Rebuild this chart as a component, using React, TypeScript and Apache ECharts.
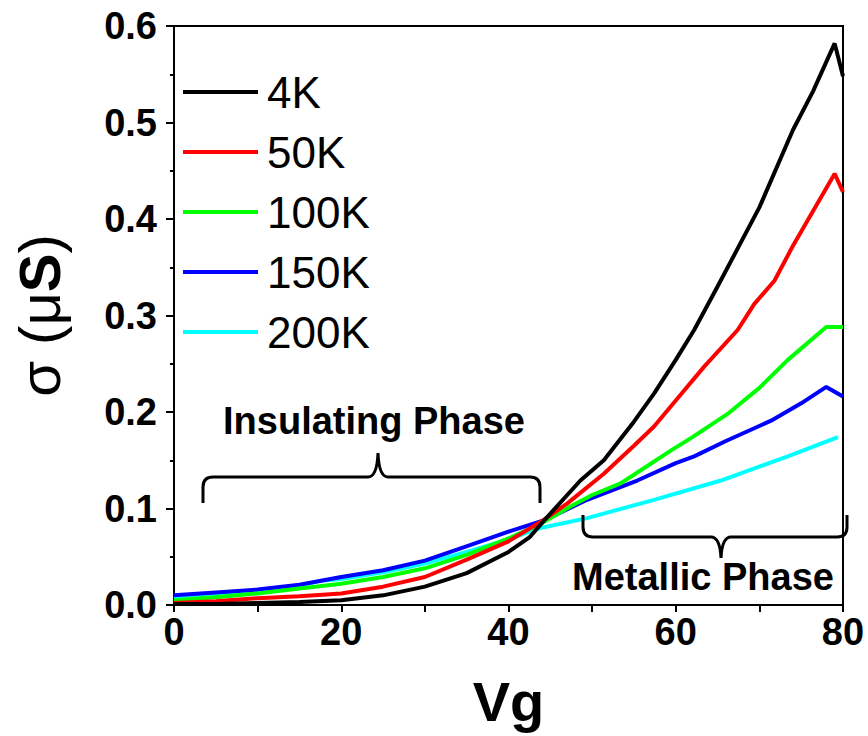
import React, { useEffect, useRef } from "react";
import * as echarts from "echarts";

// Gate voltage (V) and conductance (µS) for each temperature
const vg4K = [0, 5, 10, 15, 20, 25, 30, 35, 40, 42.5, 44.3, 48.6, 51.4, 55, 57.4, 60, 62.2, 65, 70, 74, 76.4, 79, 80];
const sigma4K = [0.001, 0.001, 0.002, 0.003, 0.005, 0.01, 0.019, 0.033, 0.055, 0.07, 0.088, 0.129, 0.15, 0.19, 0.219, 0.254, 0.285, 0.33, 0.412, 0.492, 0.532, 0.582, 0.548];

const vg50K = [0, 5, 10, 15, 20, 25, 30, 35, 40, 44, 47, 51.4, 55, 57.4, 60, 63.4, 67.4, 69.4, 71.8, 74, 79, 80];
const sigma50K = [0.002, 0.004, 0.007, 0.009, 0.012, 0.019, 0.029, 0.047, 0.066, 0.087, 0.105, 0.136, 0.165, 0.185, 0.212, 0.247, 0.285, 0.312, 0.336, 0.372, 0.447, 0.428];

const vg100K = [0, 5, 10, 15, 20, 25, 30, 35, 40, 44, 47.4, 50, 53.4, 55, 59.4, 62, 66.2, 70, 73.4, 78, 80];
const sigma100K = [0.005, 0.008, 0.012, 0.017, 0.022, 0.029, 0.038, 0.052, 0.069, 0.085, 0.102, 0.114, 0.126, 0.135, 0.16, 0.174, 0.198, 0.225, 0.254, 0.288, 0.288];

const vg150K = [0, 5, 10, 15, 20, 25, 30, 35.4, 40, 44.3, 49.4, 55.4, 60, 62.2, 66, 71.4, 75, 78, 80];
const sigma150K = [0.01, 0.013, 0.016, 0.021, 0.029, 0.036, 0.046, 0.062, 0.076, 0.088, 0.109, 0.129, 0.147, 0.154, 0.17, 0.191, 0.209, 0.226, 0.216];

const vg200K = [0, 5, 10, 15, 17.5, 20, 25, 30, 35, 40, 43.4, 49.4, 57.4, 65.4, 73.4, 79.4];
const sigma200K = [0.007, 0.011, 0.015, 0.02, 0.025, 0.027, 0.034, 0.043, 0.055, 0.068, 0.079, 0.09, 0.109, 0.129, 0.154, 0.174];

const seriesNames = ["4K", "50K", "100K", "150K", "200K"];
const seriesColors = ["#000000", "#ff0000", "#00ff00", "#0000ff", "#00ffff"];
const seriesX = [vg4K, vg50K, vg100K, vg150K, vg200K];
const seriesY = [sigma4K, sigma50K, sigma100K, sigma150K, sigma200K];

const xTicks = { min: 0, max: 80, interval: 20 };
const yTicks = { min: 0, max: 0.6, interval: 0.1 };

const FONT = "'Liberation Sans', Arial, Helvetica, sans-serif";

// Curly braces marking the two regimes
const insulatingBrace =
  "M203,503 L203,487 Q203,477 213,477 L368,477 Q377,477 378,453 Q379,477 388,477 L530,477 Q540,477 540,487 L540,503";
const metallicBrace =
  "M583,515 L583,527 Q583,537 593,537 L711,537 Q720,537 721,558 Q722,537 731,537 L837,537 Q847,537 847,527 L847,515";

let shapesRegistered = false;
function registerBraces() {
  if (shapesRegistered) return;
  echarts.graphic.registerShape("insulatingBrace", echarts.graphic.extendPath(insulatingBrace, {}));
  echarts.graphic.registerShape("metallicBrace", echarts.graphic.extendPath(metallicBrace, {}));
  shapesRegistered = true;
}

export default function App() {
  const ref = useRef<HTMLDivElement>(null);

  useEffect(() => {
    if (!ref.current) return;
    registerBraces();
    const chart = echarts.init(ref.current, undefined, { renderer: "svg" });

    const series = seriesNames.map((name, i) => ({
      name,
      type: "line",
      data: seriesX[i].map((x, j) => [x, seriesY[i][j]]),
      showSymbol: false,
      symbol: "none",
      lineStyle: { color: seriesColors[i], width: 4 },
      itemStyle: { color: seriesColors[i] },
      z: 10 - i,
    }));

    chart.setOption({
      animation: false,
      backgroundColor: "#ffffff",
      grid: {
        left: 174,
        right: 25,
        top: 26,
        bottom: 131,
        outerBoundsMode: "none",
        containLabel: false,
        show: true,
        borderColor: "#000",
        borderWidth: 2,
        backgroundColor: "transparent",
      },
      legend: {
        orient: "vertical",
        left: 183,
        top: 70,
        padding: 0,
        icon: "rect",
        itemWidth: 75,
        itemHeight: 4,
        itemGap: 16,
        textStyle: {
          fontFamily: FONT,
          fontSize: 44,
          color: "#000",
          lineHeight: 44,
          padding: [0, 0, 0, 4],
        },
        data: seriesNames,
      },
      xAxis: {
        type: "value",
        min: xTicks.min,
        max: xTicks.max,
        interval: xTicks.interval,
        name: "Vg",
        nameLocation: "middle",
        nameGap: 68,
        nameTextStyle: { fontFamily: FONT, fontSize: 56, fontWeight: "bold", color: "#000" },
        axisLine: { show: true, lineStyle: { color: "#000", width: 2 } },
        axisTick: { show: true, length: 7, lineStyle: { color: "#000", width: 2 } },
        minorTick: { show: true, splitNumber: 2, length: 7, lineStyle: { color: "#000", width: 2 } },
        splitLine: { show: false },
        axisLabel: {
          margin: 8,
          fontFamily: FONT,
          fontSize: 38,
          fontWeight: "bold",
          color: "#000",
        },
      },
      yAxis: {
        type: "value",
        min: yTicks.min,
        max: yTicks.max,
        interval: yTicks.interval,
        name: "{r|σ (μ}{b|S}{r|)}",
        nameLocation: "middle",
        nameGap: 106,
        nameRotate: 90,
        nameTextStyle: {
          fontFamily: FONT,
          fontSize: 58,
          color: "#000",
          rich: {
            r: { fontFamily: FONT, fontSize: 58, fontWeight: "normal", color: "#000" },
            b: { fontFamily: FONT, fontSize: 58, fontWeight: "bold", color: "#000" },
          },
        },
        axisLine: { show: true, lineStyle: { color: "#000", width: 2 } },
        axisTick: { show: true, length: 8, lineStyle: { color: "#000", width: 2 } },
        minorTick: { show: true, splitNumber: 2, length: 4, lineStyle: { color: "#000", width: 2 } },
        splitLine: { show: false },
        axisLabel: {
          margin: 17,
          fontFamily: FONT,
          fontSize: 38,
          fontWeight: "bold",
          color: "#000",
          formatter: (v: number) => v.toFixed(1),
        },
      },
      series,
      graphic: [
        {
          type: "insulatingBrace",
          x: 0,
          y: 0,
          z: 100,
          style: { stroke: "#000", lineWidth: 3, fill: "none" },
        },
        {
          type: "metallicBrace",
          x: 0,
          y: 0,
          z: 100,
          style: { stroke: "#000", lineWidth: 3, fill: "none" },
        },
        {
          type: "text",
          x: 374,
          y: 421,
          z: 100,
          style: {
            text: "Insulating Phase",
            fontFamily: FONT,
            fontSize: 38,
            fontWeight: "bold",
            fill: "#000",
            align: "center",
            verticalAlign: "middle",
          },
        },
        {
          type: "text",
          x: 703,
          y: 577,
          z: 100,
          style: {
            text: "Metallic Phase",
            fontFamily: FONT,
            fontSize: 38,
            fontWeight: "bold",
            fill: "#000",
            align: "center",
            verticalAlign: "middle",
          },
        },
      ],
    });

    return () => chart.dispose();
  }, []);

  return (
    <div
      ref={ref}
      style={{ position: "fixed", left: 0, top: 0, width: 868, height: 736, background: "#fff" }}
    />
  );
}
